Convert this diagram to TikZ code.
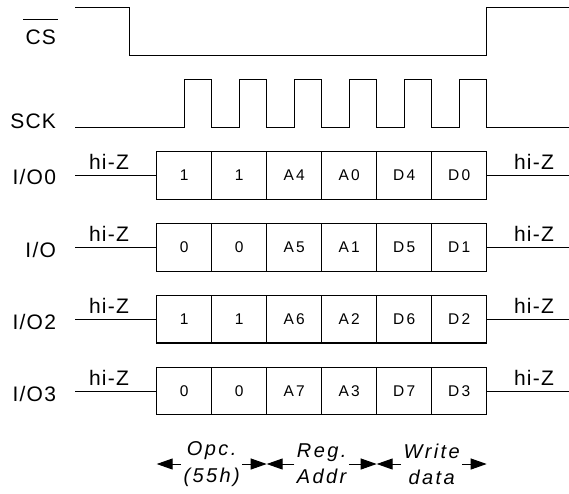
\documentclass[tikz,border=0pt]{standalone}
\usepackage{fontspec}
\setmainfont{Liberation Sans}
\newfontfamily\lblfont[LetterSpace=6]{Liberation Sans}
\newfontfamily\grpfont[LetterSpace=12]{Liberation Sans}
\newfontfamily\bitfont[LetterSpace=14]{Liberation Sans}
\usetikzlibrary{arrows.meta}
\begin{document}
\begin{tikzpicture}[x=1pt,y=-1pt,line width=1pt,
  sig/.style={font=\lblfont\fontsize{21}{23}\selectfont, inner sep=0pt},
  bit/.style={draw, font=\bitfont\fontsize{15.5}{17}\selectfont, minimum width=55pt, minimum height=47.5pt, inner sep=0pt, line width=1.1pt},
  grp/.style={font=\grpfont\itshape\fontsize{20}{26.3}\selectfont, align=center, inner sep=2pt},
  arr/.style={-{Triangle[length=16pt,width=11pt]}, line width=1pt}]
\useasboundingbox (0,0) rectangle (569,493);
% signal names
\node[sig, anchor=base east] (cs) at (56.5,44.3) {CS};
\draw ([xshift=-2pt,yshift=10pt]cs.north west) -- ([xshift=1pt,yshift=10pt]cs.north east);
\node[sig, anchor=base east] (sck) at (56.5,128.3) {SCK};
\node[sig, anchor=base east] (io0) at (56.5,184.5) {I/O0};
\node[sig, anchor=base east] (io1) at (56.5,257.3) {I/O};
\node[sig, anchor=base east] (io2) at (56.5,329) {I/O2};
\node[sig, anchor=base east] (io3) at (56.5,401) {I/O3};
% CS waveform
\draw (75,7.3) -- (129.3,7.3) -- (129.3,55.3) -- (486.7,55.3) -- (486.7,7.3) -- (569,7.3);
% SCK waveform
\draw (75,127.3) \foreach \i in {0,...,5} { -- ({184.2+55*\i},127.3) -- ({184.2+55*\i},79.3) -- ({211.7+55*\i},79.3) -- ({211.7+55*\i},127.3) } -- (569,127.3);
% data rows
\foreach \r/\vals in {0/{1,1,A4,A0,D4,D0},1/{0,0,A5,A1,D5,D1},2/{1,1,A6,A2,D6,D2},3/{0,0,A7,A3,D7,D3}} {
  \pgfmathsetmacro\yy{175.4+71.9*\r}
  \foreach \v [count=\c from 0] in \vals {
    \node[bit] (b\r\c) at ({184.2+55*\c},\yy) {\v};
  }
  \coordinate (l\r) at (75,\yy);
  \coordinate (e\r) at (569,\yy);
  \draw (l\r) -- (b\r0.west);
  \draw (b\r5.east) -- (e\r);
  \node[sig, anchor=base] (hl\r) at (109,\yy-6) {hi-Z};
  \node[sig, anchor=base] (hr\r) at (534,\yy-6) {hi-Z};
}
% bottom groups
\node[grp] (g0) at (211.7,464) {Opc.\\(55h)};
\node[grp] (g1) at (321.7,464) {Reg.\\Addr};
\node[grp] (g2) at (431.7,464) {Write\\data};
\coordinate (p0) at (156.7,463);
\coordinate (p1) at (266.7,463);
\coordinate (p2) at (376.7,463);
\coordinate (p3) at (486.7,463);
\draw[arr] (g0.west) -- (g0.west -| p0);
\draw[arr] (g0.east) -- (g0.east -| p1);
\draw[arr] (g1.west) -- (g1.west -| p1);
\draw[arr] (g1.east) -- (g1.east -| p2);
\draw[arr] (g2.west) -- (g2.west -| p2);
\draw[arr] (g2.east) -- (g2.east -| p3);
\end{tikzpicture}
\end{document}
